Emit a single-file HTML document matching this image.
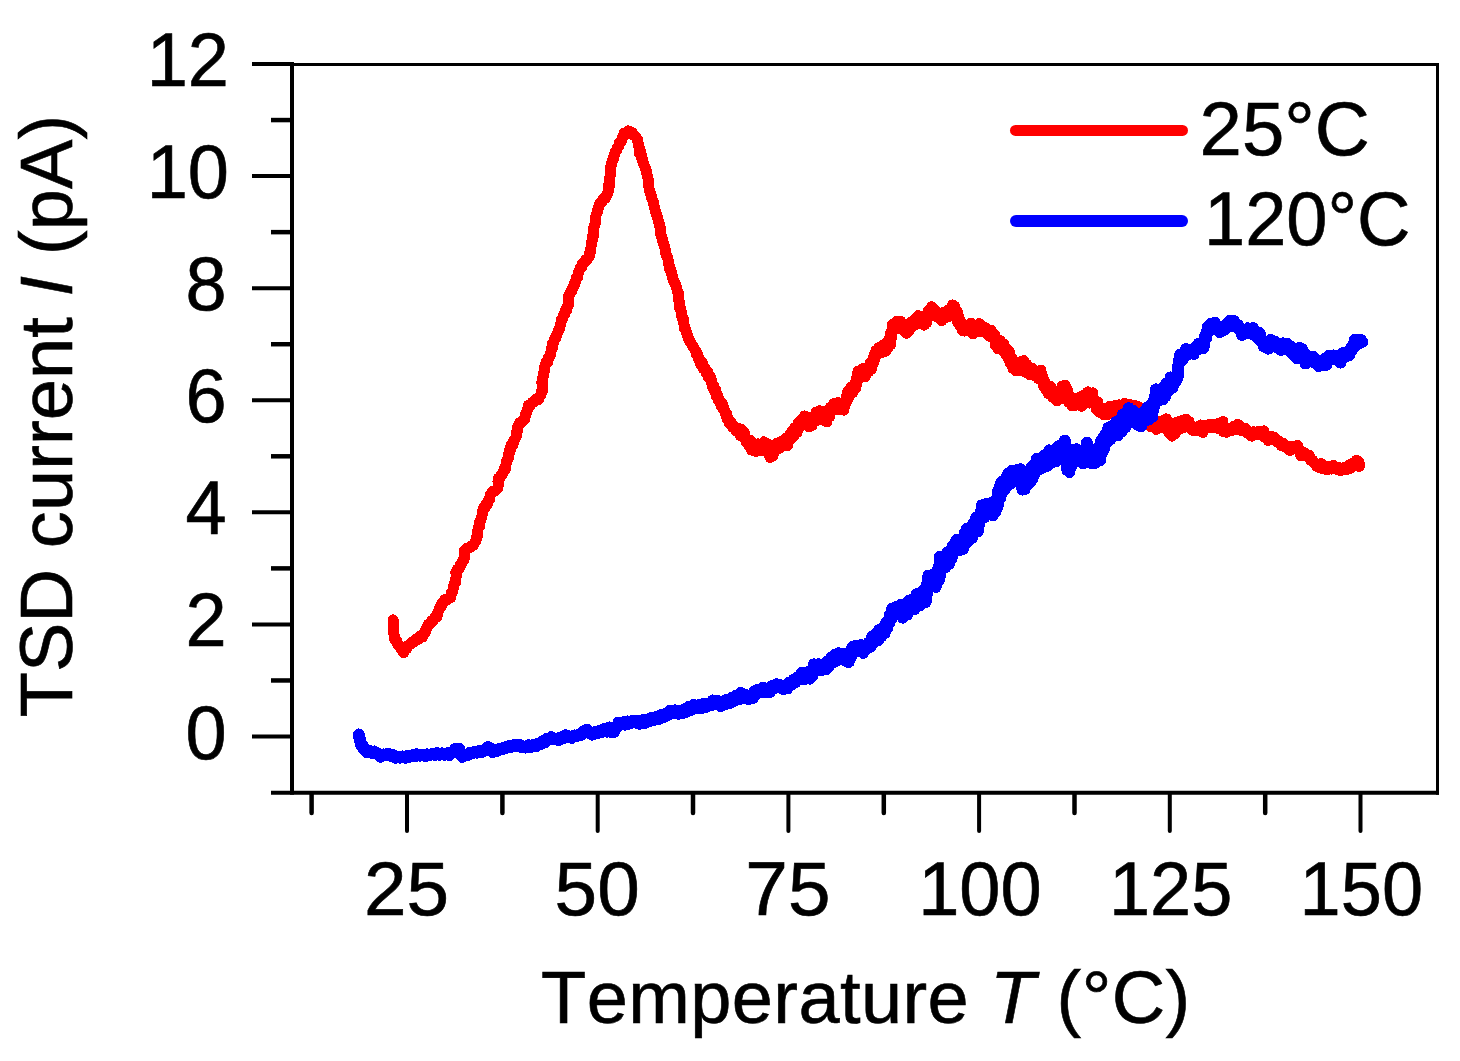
<!DOCTYPE html>
<html><head><meta charset="utf-8"><title>TSD current</title>
<style>
html,body{margin:0;padding:0;background:#fff;}
svg{display:block;}
text{font-family:"Liberation Sans",sans-serif;fill:#000;font-kerning:none;font-variant-ligatures:none;stroke:#000;stroke-width:0.6px;}
</style></head>
<body>
<svg width="1460" height="1061" viewBox="0 0 1460 1061">
<rect width="1460" height="1061" fill="#fff"/>
<line x1="292.0" y1="64.5" x2="1439.0" y2="64.5" stroke="#000" stroke-width="3"/>
<line x1="1437.5" y1="63.0" x2="1437.5" y2="794.8" stroke="#000" stroke-width="3"/>
<line x1="292.0" y1="62.0" x2="292.0" y2="794.8" stroke="#000" stroke-width="4"/>
<line x1="271" y1="792.8" x2="1439.0" y2="792.8" stroke="#000" stroke-width="4"/>
<line x1="252" y1="736.5" x2="292.0" y2="736.5" stroke="#000" stroke-width="4"/>
<line x1="271" y1="680.46" x2="292.0" y2="680.46" stroke="#000" stroke-width="4.5"/>
<line x1="252" y1="624.42" x2="292.0" y2="624.42" stroke="#000" stroke-width="4"/>
<line x1="271" y1="568.38" x2="292.0" y2="568.38" stroke="#000" stroke-width="4.5"/>
<line x1="252" y1="512.34" x2="292.0" y2="512.34" stroke="#000" stroke-width="4"/>
<line x1="271" y1="456.3" x2="292.0" y2="456.3" stroke="#000" stroke-width="4.5"/>
<line x1="252" y1="400.26" x2="292.0" y2="400.26" stroke="#000" stroke-width="4"/>
<line x1="271" y1="344.22" x2="292.0" y2="344.22" stroke="#000" stroke-width="4.5"/>
<line x1="252" y1="288.18" x2="292.0" y2="288.18" stroke="#000" stroke-width="4"/>
<line x1="271" y1="232.14" x2="292.0" y2="232.14" stroke="#000" stroke-width="4.5"/>
<line x1="252" y1="176.10000000000002" x2="292.0" y2="176.10000000000002" stroke="#000" stroke-width="4"/>
<line x1="271" y1="120.06000000000006" x2="292.0" y2="120.06000000000006" stroke="#000" stroke-width="4.5"/>
<line x1="252" y1="64.01999999999998" x2="292.0" y2="64.01999999999998" stroke="#000" stroke-width="4"/>
<line x1="311.6" y1="793.8" x2="311.6" y2="813" stroke="#000" stroke-width="4.5" stroke-linecap="round"/>
<line x1="407.0" y1="793.8" x2="407.0" y2="831" stroke="#000" stroke-width="4" stroke-linecap="round"/>
<line x1="502.4" y1="793.8" x2="502.4" y2="813" stroke="#000" stroke-width="4.5" stroke-linecap="round"/>
<line x1="597.7" y1="793.8" x2="597.7" y2="831" stroke="#000" stroke-width="4" stroke-linecap="round"/>
<line x1="693.0" y1="793.8" x2="693.0" y2="813" stroke="#000" stroke-width="4.5" stroke-linecap="round"/>
<line x1="788.4" y1="793.8" x2="788.4" y2="831" stroke="#000" stroke-width="4" stroke-linecap="round"/>
<line x1="883.8" y1="793.8" x2="883.8" y2="813" stroke="#000" stroke-width="4.5" stroke-linecap="round"/>
<line x1="979.1" y1="793.8" x2="979.1" y2="831" stroke="#000" stroke-width="4" stroke-linecap="round"/>
<line x1="1074.5" y1="793.8" x2="1074.5" y2="813" stroke="#000" stroke-width="4.5" stroke-linecap="round"/>
<line x1="1169.8" y1="793.8" x2="1169.8" y2="831" stroke="#000" stroke-width="4" stroke-linecap="round"/>
<line x1="1265.2" y1="793.8" x2="1265.2" y2="813" stroke="#000" stroke-width="4.5" stroke-linecap="round"/>
<line x1="1360.5" y1="793.8" x2="1360.5" y2="831" stroke="#000" stroke-width="4" stroke-linecap="round"/>
<text transform="translate(226.6,758.5) scale(1.0,1.025)" text-anchor="end" font-size="74">0</text>
<text transform="translate(226.6,646.4) scale(1.0,1.025)" text-anchor="end" font-size="74">2</text>
<text transform="translate(226.6,534.3) scale(1.0,1.025)" text-anchor="end" font-size="74">4</text>
<text transform="translate(226.6,422.3) scale(1.0,1.025)" text-anchor="end" font-size="74">6</text>
<text transform="translate(226.6,310.2) scale(1.0,1.025)" text-anchor="end" font-size="74">8</text>
<text transform="translate(229,198.1) scale(1.0,1.025)" text-anchor="end" font-size="74">10</text>
<text transform="translate(229,86.0) scale(1.0,1.025)" text-anchor="end" font-size="74">12</text>
<text transform="translate(406.5,914.8) scale(1.035,1.03)" text-anchor="middle" font-size="74">25</text>
<text transform="translate(597.2,914.8) scale(1.035,1.03)" text-anchor="middle" font-size="74">50</text>
<text transform="translate(787.9,914.8) scale(1.035,1.03)" text-anchor="middle" font-size="74">75</text>
<text transform="translate(979.9,914.8) scale(1.0,1.03)" text-anchor="middle" font-size="74">100</text>
<text transform="translate(1170.6,914.8) scale(1.0,1.03)" text-anchor="middle" font-size="74">125</text>
<text transform="translate(1361.3,914.8) scale(1.0,1.03)" text-anchor="middle" font-size="74">150</text>
<text x="865.8" y="1022.5" text-anchor="middle" font-size="74" letter-spacing="0.4">Temperature <tspan font-style="italic">T</tspan> (°C)</text>
<text transform="translate(72,416) rotate(-90)" text-anchor="middle" font-size="74" letter-spacing="0.12">TSD current <tspan font-style="italic">I</tspan> (pA)</text>
<polyline points="393.2,619.8 393.2,621.7 393.6,625.3 393.7,626.6 393.4,630.5 393.7,631.5 394.0,635.2 394.6,636.2 395.0,640.2 396.7,640.7 397.9,644.6 399.5,645.6 400.9,648.8 401.8,649.5 403.6,652.8 404.9,649.3 406.8,648.7 408.1,645.5 409.5,644.9 412.1,642.1 413.7,642.1 415.8,639.1 418.3,639.4 419.9,636.4 422.3,636.9 423.8,633.1 425.4,632.1 426.1,628.5 427.1,628.1 428.3,624.3 430.3,623.9 431.9,620.4 433.5,620.1 435.1,616.8 437.0,616.7 437.6,612.5 438.2,611.9 439.7,607.6 440.9,607.1 441.9,603.5 443.1,603.2 444.7,599.9 446.9,600.3 449.2,597.6 450.8,597.4 451.2,593.3 452.4,592.6 453.3,588.2 453.5,587.5 454.2,583.4 455.5,582.6 455.4,579.0 456.0,577.9 456.3,574.0 455.8,572.9 457.4,569.2 459.3,568.8 460.2,564.9 461.5,564.0 462.8,560.3 463.9,560.0 464.6,556.1 464.3,555.2 464.3,551.3 464.7,550.1 467.2,548.1 469.2,548.2 471.5,546.0 472.9,545.7 475.0,542.1 475.9,541.2 476.4,537.6 477.3,536.7 477.3,532.4 477.5,531.2 478.4,527.7 479.5,526.4 479.3,522.4 480.4,521.6 481.0,518.1 481.6,517.3 482.5,512.8 482.5,512.0 483.4,508.1 485.0,507.8 486.1,504.1 487.8,503.7 488.9,499.3 489.8,498.9 490.2,494.9 491.3,493.8 492.9,491.1 495.1,491.2 497.7,488.0 498.0,487.3 498.4,483.1 498.0,481.9 498.4,478.3 500.2,477.8 501.8,473.9 503.0,473.6 503.9,469.7 505.4,469.1 505.9,465.0 506.0,464.3 506.9,460.0 508.1,459.2 508.2,455.0 509.1,454.2 509.1,450.7 510.6,449.8 510.9,445.6 512.9,445.2 513.4,441.3 514.3,440.4 516.2,436.8 516.3,436.2 516.7,431.7 517.6,430.9 517.6,427.2 518.1,426.3 519.8,422.9 521.5,422.9 523.5,419.3 524.8,418.9 525.4,414.4 526.3,413.9 527.1,410.3 527.8,408.9 528.5,405.3 530.4,405.2 532.7,401.9 534.2,401.8 536.6,398.9 538.4,399.6 539.8,396.2 541.0,395.2 541.5,391.1 542.6,390.4 542.5,386.4 542.1,385.6 541.9,381.4 542.4,380.8 543.1,376.3 543.9,375.5 544.0,371.4 544.7,370.5 544.5,366.8 545.1,365.7 546.1,362.0 547.9,361.6 548.3,357.4 549.8,356.6 550.9,352.6 550.9,352.3 551.6,348.1 552.8,347.4 552.6,343.2 553.8,342.3 554.5,338.7 556.1,337.5 556.9,334.0 557.4,333.2 559.0,329.4 559.3,329.0 560.7,324.4 560.8,323.7 561.4,319.7 562.4,318.8 563.5,314.9 564.9,314.3 565.3,310.4 566.7,310.0 567.2,306.4 568.3,305.1 568.0,300.9 568.9,300.4 568.6,296.0 569.1,295.6 570.6,291.6 571.8,291.1 572.7,287.3 574.0,286.2 574.7,282.8 575.4,281.6 576.4,277.9 577.7,276.9 578.2,273.3 578.9,272.0 579.9,268.8 581.5,267.8 582.0,264.0 583.9,263.1 585.5,260.0 587.0,260.0 588.7,256.5 589.7,256.0 589.9,251.5 590.8,250.9 591.0,246.9 591.2,245.7 591.7,241.7 592.2,240.8 592.4,236.7 593.5,236.1 593.3,232.2 593.6,231.1 593.9,227.1 594.4,226.4 595.5,222.1 595.2,221.5 595.6,217.3 595.8,216.2 597.0,212.4 597.6,211.5 598.2,207.8 599.0,206.7 599.8,203.2 601.5,202.2 603.4,198.9 605.1,198.7 606.7,194.9 607.5,194.4 608.5,190.7 608.7,189.7 608.5,185.4 609.8,184.8 610.0,180.5 609.6,179.7 610.2,175.5 610.7,174.9 610.6,170.4 610.9,169.9 610.9,166.1 611.4,164.8 612.1,160.7 613.1,160.1 613.8,156.0 614.3,154.9 615.6,151.2 616.4,150.7 617.7,147.2 618.9,146.0 619.4,142.6 621.1,141.5 622.3,137.6 623.1,137.2 624.2,133.4 626.5,133.6 628.4,130.9 629.9,131.9 632.2,132.4 633.8,135.3 635.1,135.9 637.4,139.3 637.8,140.2 638.2,144.1 638.6,145.2 639.5,148.8 640.1,149.6 639.7,153.8 641.3,154.4 641.8,158.5 642.3,159.1 643.1,163.4 643.8,164.2 645.3,167.9 645.9,168.9 646.7,173.0 646.8,173.5 647.8,177.4 648.0,178.5 648.7,182.4 648.6,183.6 649.0,187.8 649.0,188.3 650.0,192.3 650.6,193.3 651.5,197.2 651.8,198.2 653.3,202.0 653.6,202.8 654.2,206.4 654.6,207.4 655.4,211.8 656.0,212.6 656.9,216.2 657.3,217.0 658.5,221.5 658.8,221.9 659.7,226.1 660.1,227.3 660.5,231.0 661.0,231.8 660.9,235.6 662.0,237.1 662.2,240.7 662.8,241.5 664.2,245.4 664.7,246.5 665.4,250.2 665.6,251.4 666.2,255.4 667.1,256.2 668.2,260.3 668.3,261.1 668.7,264.6 669.4,266.0 669.9,269.6 670.9,270.3 671.7,274.5 672.2,275.3 672.9,279.2 673.4,280.2 675.2,283.7 675.6,284.7 676.9,288.5 677.1,289.6 678.1,293.3 678.9,294.1 679.0,298.0 678.4,299.2 679.6,303.3 679.5,304.6 679.7,308.5 680.8,308.9 681.5,313.0 681.2,314.2 682.3,318.1 683.3,318.7 683.6,323.0 684.0,323.7 684.2,327.9 685.0,328.3 686.3,332.3 686.7,333.4 688.1,337.2 688.4,338.2 689.8,341.8 690.9,342.5 692.4,345.8 693.3,346.7 695.2,350.5 696.2,351.2 696.5,354.8 698.2,355.6 698.6,359.3 699.9,360.2 701.0,364.8 702.5,362.8 703.3,368.7 704.7,367.9 706.3,373.4 707.6,371.8 708.6,377.7 710.3,376.8 711.3,382.1 711.7,380.6 712.7,387.9 713.9,386.1 714.6,391.6 715.9,389.5 716.2,396.3 717.2,394.1 718.3,400.3 719.3,399.5 721.3,406.1 722.2,403.0 723.5,409.7 723.8,407.7 725.3,413.8 726.3,413.1 727.0,418.8 727.8,418.3 729.3,423.3 731.3,422.3 732.7,427.2 733.5,425.3 736.1,430.8 737.6,428.0 740.3,435.6 741.6,429.5 743.6,437.0 744.3,432.5 745.9,441.4 746.5,439.1 748.9,446.1 750.3,440.5 751.5,450.1 754.2,443.8 755.9,451.5 758.4,443.9 760.6,450.6 763.9,441.8 766.4,447.4 767.0,443.5 768.7,454.3 769.1,448.8 770.1,457.5 771.7,451.4 772.9,456.2 774.2,445.4 775.3,450.7 776.9,443.2 779.8,448.1 781.7,440.9 783.7,445.9 785.4,438.4 787.6,445.5 790.0,433.8 790.8,439.1 792.1,431.2 794.2,436.1 795.1,427.4 797.0,432.7 798.6,422.1 800.0,427.1 801.7,419.7 803.0,423.8 804.6,416.0 805.7,422.8 807.2,417.2 809.1,426.9 810.5,419.9 812.0,425.6 813.7,416.8 815.2,421.1 816.2,412.2 818.6,420.0 819.8,410.8 821.6,416.0 823.8,411.7 825.0,420.8 826.2,416.3 826.7,421.9 828.5,412.9 829.3,416.9 830.0,407.6 831.1,411.2 833.5,403.7 836.2,409.3 837.9,402.6 840.6,409.5 842.3,405.6 843.8,410.1 844.0,401.7 845.1,405.4 846.2,397.0 846.6,401.1 847.7,391.7 848.8,397.4 850.7,387.2 852.7,392.7 855.2,382.8 855.7,388.3 856.5,380.5 856.3,385.5 857.2,373.8 857.7,380.6 858.2,370.9 860.0,376.8 863.2,368.3 865.1,376.9 866.9,367.5 868.3,372.1 870.3,362.4 871.5,368.9 873.2,358.2 873.3,363.2 874.8,353.3 875.1,358.2 876.2,350.3 876.9,355.1 878.8,347.6 881.3,352.5 883.3,344.8 885.9,351.1 886.5,343.0 888.1,347.3 888.9,339.1 890.7,344.5 890.6,333.6 891.6,337.1 891.9,330.0 892.0,333.6 892.3,324.5 893.7,330.0 896.1,321.7 898.6,328.8 900.6,321.4 902.8,329.9 904.8,324.5 906.3,333.2 908.1,326.6 909.5,330.6 911.2,322.1 913.3,325.8 915.0,319.3 916.7,324.1 918.1,315.6 919.8,320.3 922.3,316.1 924.2,325.1 925.8,315.2 926.7,322.7 928.4,310.7 930.3,316.2 931.6,306.7 932.8,314.9 935.6,310.6 937.8,317.5 939.8,313.5 941.7,320.8 943.7,312.2 946.3,317.2 948.0,310.3 950.1,316.2 952.5,305.0 954.0,312.6 954.8,306.6 956.1,315.7 957.2,311.2 957.6,322.1 958.0,314.7 959.5,325.3 960.7,321.4 962.1,330.3 962.5,324.4 964.6,331.0 967.1,325.1 969.4,329.6 971.2,323.3 973.1,333.8 974.9,328.0 976.6,331.1 979.2,323.7 981.1,332.0 982.7,326.1 985.2,332.4 986.7,328.5 988.9,336.1 991.2,330.4 993.3,338.6 994.6,334.6 995.3,345.1 996.7,339.9 997.8,348.6 1000.6,340.9 1002.4,350.3 1003.8,344.1 1005.6,354.3 1007.0,349.1 1008.7,359.8 1009.3,351.7 1010.4,363.4 1012.0,358.3 1012.9,368.6 1014.1,361.6 1016.3,370.8 1017.1,363.4 1019.1,370.6 1021.2,361.4 1022.4,367.3 1023.7,360.6 1026.0,372.6 1026.8,364.6 1029.7,374.9 1032.0,368.0 1033.8,375.5 1036.2,371.1 1038.7,379.0 1040.9,370.2 1041.9,381.0 1042.6,376.2 1043.8,386.5 1044.2,380.2 1045.8,390.1 1047.0,386.7 1048.3,393.8 1050.8,386.7 1052.7,397.2 1055.1,391.3 1056.9,400.7 1059.4,390.4 1061.0,398.8 1062.4,386.0 1064.2,394.4 1065.2,385.4 1066.6,395.8 1067.5,390.1 1068.6,402.1 1070.0,396.4 1072.0,405.8 1074.2,399.0 1076.1,405.1 1079.1,397.5 1081.6,406.2 1082.9,395.5 1085.2,403.5 1087.8,391.9 1089.4,403.1 1092.7,392.9 1093.3,403.4 1094.6,400.1 1096.6,409.8 1097.6,401.8 1099.1,412.1 1100.7,407.4 1103.5,414.4 1105.2,408.9 1107.2,415.0 1109.8,406.1 1112.2,413.3 1115.3,405.4 1117.6,413.5 1119.3,404.9 1122.1,413.2 1124.5,403.3 1127.2,410.7 1130.0,404.7 1132.4,410.0 1133.9,405.1 1136.9,414.8 1138.2,406.6 1140.4,417.4 1141.9,410.1 1143.8,421.0 1145.5,412.1 1147.3,422.5 1149.5,417.2 1151.1,426.8 1153.3,418.4 1156.2,429.5 1158.3,421.6 1160.4,427.7 1163.1,420.3 1165.3,424.2 1166.3,418.9 1167.9,428.5 1168.2,421.5 1168.9,433.1 1170.1,426.6 1171.9,436.1 1173.4,426.5 1175.2,433.6 1177.6,422.0 1179.3,429.4 1181.5,420.7 1183.8,427.7 1186.3,419.1 1187.6,424.4 1189.0,421.5 1189.9,427.9 1190.9,426.9 1193.1,430.6 1195.9,427.7 1198.3,430.8 1200.6,425.0 1202.9,432.5 1204.8,425.7 1207.5,427.5 1209.7,424.2 1211.9,427.6 1214.8,424.5 1217.0,428.2 1218.9,423.3 1221.1,424.5 1222.9,421.4 1222.9,427.2 1223.2,426.8 1223.3,431.8 1224.0,430.8 1226.4,432.3 1229.1,428.6 1231.1,430.7 1233.2,426.6 1235.5,429.5 1237.6,424.3 1240.4,427.0 1241.8,431.0 1243.4,429.5 1245.7,428.6 1247.2,433.1 1249.5,431.7 1251.6,436.1 1253.7,431.7 1256.7,434.9 1258.8,431.3 1261.7,434.9 1263.7,430.9 1264.6,437.3 1265.9,436.4 1268.1,440.4 1270.7,436.1 1272.8,439.9 1274.7,437.7 1277.0,441.9 1279.3,441.3 1281.3,445.8 1283.5,443.3 1285.3,447.3 1287.8,446.1 1289.9,450.6 1291.5,446.6 1293.6,448.1 1295.1,448.1 1296.5,446.9 1297.7,445.5 1299.3,450.2 1300.9,455.7 1302.6,453.9 1304.6,452.9 1306.8,456.6 1309.2,455.4 1310.4,459.7 1311.9,459.5 1314.7,463.8 1317.1,466.4 1319.0,467.4 1321.0,463.5 1322.6,468.6 1324.6,467.0 1326.9,470.0 1328.8,466.2 1331.4,469.1 1333.5,465.5 1336.1,469.3 1338.6,467.5 1340.4,470.8 1343.0,467.9 1345.8,470.0 1348.2,465.6 1350.4,468.2 1352.2,463.4 1354.7,465.4 1356.6,460.2 1359.0,462.2 1359.3,466.4" fill="none" stroke="#ff0000" stroke-width="11" shape-rendering="crispEdges" stroke-linejoin="round" stroke-linecap="round"/>
<polyline points="358.9,734.5 359.2,736.3 359.9,740.2 360.4,741.1 361.0,744.8 362.7,745.4 363.7,748.9 365.1,749.4 367.4,752.4 370.1,751.0 372.3,752.8 374.3,751.6 376.8,753.7 378.6,754.1 380.5,756.7 383.2,754.5 385.7,755.3 388.0,753.5 390.3,755.8 393.2,755.1 395.4,757.8 397.3,756.6 399.8,757.6 402.8,756.5 405.4,757.8 408.0,755.9 409.4,756.8 412.8,755.1 415.3,755.9 416.9,754.3 420.1,755.6 421.9,754.5 425.3,755.9 426.9,754.4 429.4,755.2 432.6,754.0 434.8,754.9 437.0,753.2 439.4,754.8 441.9,753.4 444.5,754.6 447.7,753.2 449.6,755.0 451.7,752.5 454.2,752.3 455.4,748.9 457.4,748.9 459.2,748.9 459.9,752.2 460.8,753.3 462.2,756.8 464.7,754.6 467.6,755.2 469.6,752.8 471.6,753.4 474.8,751.7 476.6,752.6 479.5,750.8 481.5,752.3 484.6,750.0 486.2,749.8 487.9,747.0 490.0,748.1 491.3,748.5 492.9,752.1 494.6,750.5 496.9,751.0 499.7,748.7 502.1,749.3 504.8,747.4 506.3,747.8 509.2,746.2 511.3,746.7 514.1,745.0 516.4,745.8 519.4,744.7 521.4,747.1 523.3,746.4 525.7,747.5 528.8,745.4 530.6,746.9 533.6,745.1 535.8,746.4 537.8,743.6 540.7,744.1 543.0,741.2 545.3,741.9 546.9,738.7 549.4,738.9 551.2,737.2 554.1,739.4 556.3,738.6 558.6,740.1 560.4,737.4 563.5,738.0 565.5,735.3 567.7,737.0 569.7,736.5 571.7,737.9 574.0,735.5 576.8,736.1 579.5,734.2 581.5,734.6 583.1,731.7 585.1,731.3 586.8,729.5 589.0,732.7 590.1,733.0 592.1,734.7 594.3,732.4 597.3,733.1 599.7,730.7 601.9,732.0 603.9,729.0 607.0,731.7 609.3,727.5 610.9,731.9 613.1,731.2 614.1,731.7 615.7,726.9 616.7,727.9 618.5,722.6 619.7,724.1 623.0,722.4 625.4,724.7 627.5,721.5 629.6,723.6 632.5,721.2 635.3,722.5 637.0,720.8 639.8,723.8 642.2,720.3 644.8,723.2 647.1,719.6 649.4,721.1 651.3,718.1 654.5,719.9 656.4,717.0 659.3,719.0 661.5,714.9 663.5,717.2 666.2,713.4 668.5,714.9 669.9,710.8 672.7,713.3 675.0,710.3 678.0,713.8 680.5,711.1 682.6,713.2 684.9,709.3 687.1,711.6 688.9,707.0 691.9,709.7 693.7,704.9 695.9,708.3 698.9,705.2 700.7,708.4 703.6,704.0 705.9,706.9 708.6,703.5 710.9,705.4 712.8,700.5 715.0,704.4 717.9,701.0 720.7,706.2 723.2,701.4 725.6,704.0 727.2,699.8 729.6,703.3 732.1,697.7 734.6,700.7 736.3,695.7 739.1,699.1 740.7,692.8 743.9,698.0 745.9,695.1 748.3,699.2 750.8,696.6 752.9,698.1 754.1,691.8 756.0,694.5 757.9,689.5 760.1,692.3 763.1,687.7 764.9,692.4 767.2,688.5 770.1,691.9 771.8,686.1 773.6,688.7 776.5,684.3 778.8,687.5 780.6,685.3 783.5,689.2 785.5,685.4 787.3,688.5 789.3,682.6 791.4,684.6 793.7,679.7 795.6,682.0 797.8,677.3 799.6,679.6 802.1,672.6 804.7,678.9 807.1,672.4 809.5,678.6 811.4,670.2 812.4,675.4 813.9,664.4 816.7,670.5 818.5,664.3 821.0,670.4 824.1,665.2 826.1,669.3 827.5,661.5 828.9,666.0 831.3,657.4 833.4,662.3 834.9,654.5 836.8,660.6 838.4,653.2 840.3,657.5 842.9,653.6 845.0,660.6 846.6,657.0 848.7,662.0 850.1,653.2 850.6,657.7 852.4,647.2 853.7,652.2 856.0,645.7 858.6,651.0 861.2,645.1 863.2,652.8 865.6,645.3 866.6,648.8 868.6,642.6 870.6,646.7 872.1,636.5 873.9,642.2 875.8,634.3 878.1,640.1 879.2,629.9 881.3,636.4 883.0,627.5 884.7,632.9 886.2,622.7 887.4,627.5 888.4,620.1 889.1,623.1 889.8,614.8 891.5,619.0 892.1,608.7 893.6,613.7 895.7,607.1 898.0,613.9 901.0,604.9 902.8,617.6 905.2,605.6 906.9,614.7 908.6,600.9 910.3,609.0 912.6,599.2 914.4,609.3 916.7,594.3 919.5,605.4 921.8,591.9 924.0,601.2 925.9,589.3 925.8,601.9 926.3,585.8 926.7,594.8 927.6,582.9 928.3,589.5 928.5,575.6 930.8,586.0 933.5,574.5 935.6,586.9 937.9,575.9 938.2,580.4 938.5,567.3 939.1,579.6 939.8,565.8 940.4,574.9 939.8,556.7 940.6,567.8 943.3,556.3 945.1,567.5 947.2,552.4 949.2,563.6 950.5,550.4 951.7,557.8 952.5,546.4 954.2,551.9 956.3,540.1 958.5,550.3 960.9,539.1 963.0,549.0 964.7,533.0 965.8,543.5 966.5,529.1 968.4,541.0 969.4,528.0 972.0,537.7 973.6,523.3 975.4,532.2 976.3,517.7 977.9,531.2 978.0,517.6 979.2,524.4 980.5,512.7 981.4,518.0 981.9,505.3 984.4,517.1 986.4,503.9 988.5,514.2 991.3,502.8 992.8,515.4 994.7,503.3 995.4,511.8 995.9,500.4 997.0,507.8 997.7,492.1 998.1,504.0 999.3,487.7 1000.0,498.4 1000.8,483.4 1001.9,492.6 1003.5,480.8 1004.8,489.1 1006.0,478.3 1006.7,486.6 1008.4,473.4 1010.8,483.2 1012.1,470.6 1014.2,480.6 1016.6,470.3 1019.4,481.0 1020.5,469.3 1021.3,485.1 1022.1,477.0 1022.5,489.6 1024.1,478.1 1024.7,488.9 1026.1,476.5 1027.5,484.8 1028.6,471.3 1030.5,481.3 1031.9,467.0 1032.6,478.1 1034.6,464.2 1035.1,472.7 1036.9,458.5 1039.1,469.5 1041.0,458.0 1042.9,467.6 1044.6,455.4 1047.5,465.8 1049.1,450.4 1051.4,462.8 1054.2,450.2 1056.1,461.1 1058.8,446.1 1061.1,457.4 1063.0,443.8 1063.6,454.2 1064.7,440.5 1065.3,455.2 1065.5,445.7 1065.9,462.1 1066.3,449.5 1066.7,466.2 1066.7,455.4 1067.3,470.1 1067.6,461.7 1069.4,472.0 1070.6,457.6 1071.9,465.3 1073.5,449.7 1074.7,460.7 1076.8,449.3 1079.7,461.2 1081.1,452.1 1083.0,463.4 1083.8,449.6 1085.4,455.9 1086.8,442.6 1088.6,456.1 1089.5,448.9 1090.9,462.8 1092.4,451.8 1095.2,462.8 1097.0,448.4 1100.0,460.2 1100.5,444.9 1101.1,455.0 1101.4,440.1 1102.9,451.0 1103.3,437.5 1103.8,449.2 1105.7,434.4 1106.5,442.6 1108.4,427.7 1110.2,439.3 1111.2,426.8 1113.1,433.9 1115.9,422.3 1117.9,435.2 1119.7,419.9 1121.4,431.4 1122.6,414.8 1124.9,427.5 1125.5,413.3 1127.5,419.8 1128.6,408.2 1130.7,419.7 1132.3,410.4 1134.0,422.4 1135.9,414.9 1137.6,424.9 1139.3,414.3 1141.0,426.3 1143.2,412.6 1145.1,421.0 1147.3,407.6 1148.8,419.2 1150.1,405.3 1152.1,416.8 1153.9,400.1 1153.5,409.4 1154.6,397.2 1154.8,404.9 1155.9,389.4 1158.7,400.6 1160.6,390.0 1162.5,399.4 1164.0,386.6 1165.5,396.1 1166.8,383.1 1168.6,390.3 1170.6,377.5 1172.5,387.3 1174.7,377.0 1176.1,381.1 1177.8,374.7 1177.5,377.4 1178.3,369.9 1177.7,372.0 1178.0,365.9 1178.4,366.7 1179.1,360.3 1178.9,362.9 1180.1,354.8 1181.3,357.8 1182.8,359.6 1185.0,353.8 1185.9,349.1 1187.7,354.7 1189.0,353.0 1190.7,350.7 1192.4,352.1 1193.7,354.0 1195.7,346.8 1196.7,350.1 1198.7,343.7 1200.8,346.6 1203.2,348.1 1204.3,343.9 1204.9,336.8 1206.2,338.0 1206.4,332.4 1207.6,332.9 1208.0,326.8 1209.5,329.5 1211.2,323.6 1212.5,326.7 1214.9,322.6 1216.5,329.4 1217.7,326.9 1219.8,332.0 1221.8,328.3 1224.5,329.7 1226.3,324.5 1228.0,326.7 1229.9,320.7 1232.0,324.2 1234.0,321.0 1235.6,326.6 1237.9,324.9 1239.5,330.0 1240.4,328.7 1242.0,334.9 1243.6,329.8 1246.4,333.1 1248.0,328.3 1250.6,331.5 1252.9,328.1 1254.3,335.2 1256.1,331.8 1257.8,337.7 1259.6,333.1 1260.8,340.9 1262.1,340.1 1263.9,346.6 1265.5,342.2 1268.3,348.6 1270.6,339.8 1273.3,343.7 1275.2,342.0 1276.6,347.2 1278.5,343.7 1281.0,349.8 1283.0,343.4 1284.8,348.7 1287.4,344.0 1288.7,347.3 1290.3,346.2 1291.4,352.2 1292.8,350.3 1293.8,355.4 1294.8,353.4 1296.4,358.0 1298.0,353.3 1299.1,348.0 1300.5,348.5 1301.5,352.9 1302.3,349.6 1304.0,355.9 1304.7,353.9 1305.4,363.5 1308.1,356.1 1310.5,360.1 1313.5,357.0 1315.1,363.0 1316.9,361.1 1318.8,366.1 1320.7,361.2 1322.9,364.8 1325.0,358.9 1326.3,364.7 1328.5,356.0 1330.4,358.3 1333.4,355.4 1335.7,359.3 1337.8,356.1 1340.5,362.5 1342.7,353.3 1344.9,357.1 1347.5,352.0 1349.4,355.1 1350.8,348.4 1352.0,350.0 1353.1,345.0 1353.6,347.1 1354.9,339.9 1358.1,344.0 1360.4,339.6 1362.2,342.0" fill="none" stroke="#0000ff" stroke-width="12" shape-rendering="crispEdges" stroke-linejoin="round" stroke-linecap="round"/>
<line x1="1015.5" y1="130.4" x2="1182.5" y2="130.4" stroke="#ff0000" stroke-width="11" stroke-linecap="round"/>
<line x1="1016" y1="221" x2="1182" y2="221" stroke="#0000ff" stroke-width="12" stroke-linecap="round"/>
<text transform="translate(1199.5,155) scale(1.03,1.02)" font-size="74">25°C</text>
<text transform="translate(1204,245.2) scale(1.0,1.02)" font-size="74">120°C</text>
</svg>
</body></html>
